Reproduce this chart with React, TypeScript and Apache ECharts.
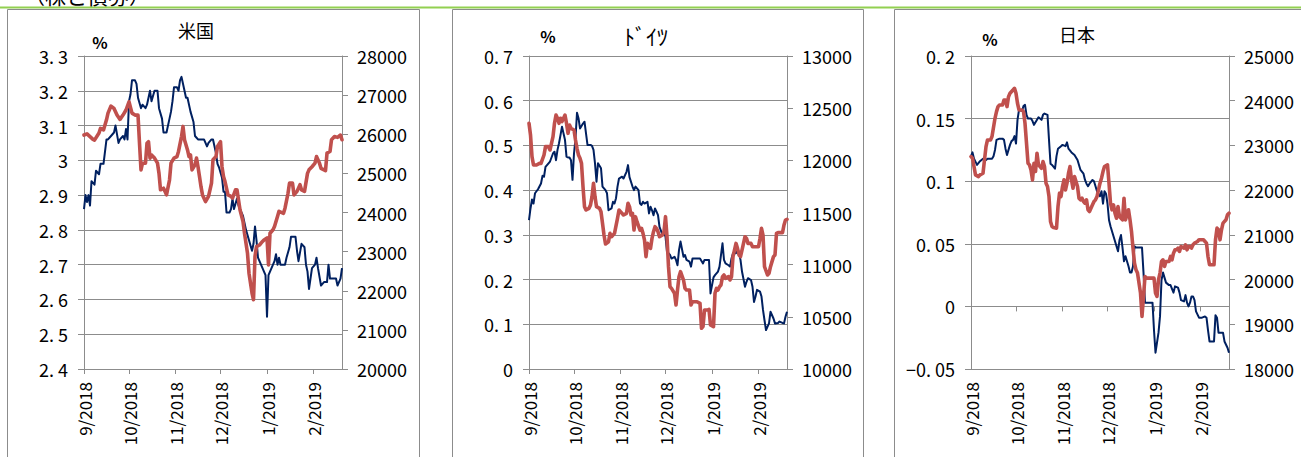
import { useEffect, useRef } from 'react';
import * as echarts from 'echarts';

// Daily x-axis: 2018-09-03 .. 2019-02-22; series points are [day offset, value]
const START_UTC = Date.UTC(2018, 8, 3);
const DAY_COUNT = 173;

// 米国: 10年債利回り (%) / NYダウ
const usYield: [number, number][] = [
  [0, 2.86], [1, 2.9], [2, 2.88], [3, 2.9], [4, 2.87], [5, 2.94], [7, 2.93], [8, 2.97], [10, 2.96], [11, 2.99],
  [13, 2.99], [15, 3.06], [16, 3.06], [18, 3.07], [20, 3.08], [21, 3.1], [23, 3.05], [24, 3.06], [26, 3.07], [27, 3.06],
  [28, 3.09], [29, 3.06], [30, 3.17], [31, 3.19], [32, 3.23], [34, 3.23], [35, 3.22], [36, 3.18], [38, 3.15], [39, 3.16],
  [41, 3.15], [42, 3.16], [43, 3.18], [44, 3.2], [45, 3.17], [47, 3.2], [49, 3.2], [50, 3.15], [52, 3.12], [53, 3.08],
  [55, 3.08], [57, 3.12], [58, 3.14], [59, 3.17], [60, 3.21], [62, 3.21], [63, 3.2], [64, 3.23], [65, 3.24], [67, 3.2],
  [68, 3.18], [69, 3.18], [71, 3.14], [73, 3.11], [74, 3.07], [76, 3.06], [78, 3.06], [80, 3.06], [82, 3.04], [83, 3.05],
  [85, 3.06], [86, 3.06], [88, 3.02], [89, 2.99], [90, 2.98], [92, 2.95], [93, 2.91], [94, 2.91], [95, 2.85], [97, 2.85],
  [98, 2.86], [99, 2.89], [100, 2.86], [102, 2.89], [103, 2.87], [106, 2.84], [108, 2.8], [110, 2.77], [112, 2.74], [113, 2.76],
  [114, 2.81], [115, 2.77], [116, 2.72], [118, 2.7], [119, 2.69], [121, 2.67], [122, 2.55], [123, 2.67], [124, 2.68], [126, 2.7],
  [127, 2.71], [128, 2.73], [129, 2.7], [130, 2.72], [131, 2.7], [134, 2.7], [135, 2.72], [137, 2.75], [138, 2.78], [141, 2.78],
  [142, 2.74], [143, 2.71], [145, 2.76], [147, 2.75], [148, 2.7], [149, 2.68], [150, 2.63], [152, 2.69], [154, 2.7], [155, 2.72],
  [156, 2.69], [158, 2.64], [160, 2.65], [162, 2.65], [163, 2.7], [164, 2.66], [166, 2.66], [168, 2.66], [169, 2.64], [171, 2.66],
  [172, 2.69],
];
const usStock: [number, number][] = [
  [0, 25980], [2, 26010], [4, 25940], [6, 25870], [7, 25850], [10, 26030], [11, 26150], [13, 26110], [15, 26370], [16, 26540],
  [18, 26720], [20, 26660], [22, 26490], [24, 26380], [26, 26490], [28, 26620], [30, 26830], [32, 26540], [34, 26490], [36, 26490],
  [37, 25770], [38, 25090], [39, 25260], [41, 25260], [42, 25770], [43, 25810], [44, 25390], [45, 25470], [47, 25390], [49, 25260],
  [50, 25000], [51, 24580], [53, 24620], [54, 24540], [55, 24450], [57, 24830], [58, 25260], [60, 25390], [62, 25430], [63, 25560],
  [65, 25940], [66, 26200], [67, 25860], [69, 25600], [70, 25430], [71, 25470], [72, 25090], [74, 25220], [75, 25390], [76, 25170],
  [77, 24920], [78, 24660], [79, 24450], [81, 24280], [83, 24410], [84, 24580], [85, 24750], [86, 25350], [88, 25430], [89, 25690],
  [91, 25810], [92, 25170], [93, 24920], [94, 24790], [96, 24450], [98, 24410], [99, 24370], [101, 24580], [102, 24580], [104, 24070],
  [106, 23770], [107, 23470], [109, 22960], [110, 22450], [112, 21940], [113, 21770], [114, 22880], [115, 23130], [117, 23170], [119, 23260],
  [120, 23300], [122, 23350], [123, 22660], [124, 23470], [126, 23560], [127, 23640], [129, 23900], [130, 24030], [133, 23980], [134, 24110],
  [136, 24490], [137, 24750], [139, 24750], [140, 24450], [142, 24540], [144, 24710], [145, 24580], [147, 24540], [149, 25000], [150, 25090],
  [152, 25170], [154, 25260], [155, 25430], [157, 25260], [158, 25130], [160, 25090], [161, 25070], [162, 25520], [164, 25560], [165, 25860],
  [167, 25940], [169, 25920], [171, 25980], [172, 25860],
];

// ドイツ: 10年債利回り (%) / DAX
const deYield: [number, number][] = [
  [0, 0.333], [1, 0.359], [2, 0.379], [3, 0.37], [4, 0.393], [6, 0.402], [8, 0.415], [9, 0.432], [10, 0.43], [11, 0.452],
  [13, 0.46], [14, 0.464], [16, 0.482], [17, 0.486], [18, 0.467], [19, 0.49], [20, 0.505], [21, 0.523], [22, 0.542], [24, 0.512],
  [25, 0.475], [26, 0.473], [27, 0.473], [28, 0.467], [29, 0.423], [30, 0.482], [31, 0.516], [32, 0.573], [33, 0.561], [34, 0.538],
  [36, 0.549], [37, 0.553], [38, 0.527], [39, 0.501], [41, 0.501], [42, 0.499], [43, 0.49], [44, 0.46], [45, 0.419], [46, 0.46],
  [48, 0.449], [49, 0.408], [51, 0.4], [52, 0.393], [53, 0.355], [55, 0.359], [56, 0.374], [57, 0.37], [58, 0.382], [59, 0.408],
  [60, 0.426], [62, 0.43], [63, 0.426], [65, 0.441], [66, 0.456], [67, 0.429], [69, 0.408], [70, 0.4], [71, 0.408], [73, 0.4],
  [74, 0.37], [75, 0.367], [76, 0.374], [77, 0.37], [79, 0.374], [80, 0.348], [81, 0.363], [82, 0.355], [83, 0.344], [84, 0.359],
  [85, 0.352], [86, 0.344], [87, 0.318], [89, 0.3], [90, 0.303], [91, 0.296], [92, 0.262], [93, 0.259], [94, 0.255], [95, 0.247],
  [97, 0.251], [98, 0.244], [99, 0.232], [100, 0.266], [101, 0.285], [103, 0.251], [104, 0.255], [105, 0.244], [107, 0.24], [108, 0.229],
  [109, 0.247], [111, 0.247], [112, 0.247], [114, 0.247], [116, 0.236], [117, 0.244], [119, 0.244], [120, 0.244], [121, 0.169], [123, 0.205],
  [124, 0.21], [126, 0.218], [127, 0.229], [129, 0.281], [130, 0.244], [131, 0.236], [133, 0.232], [134, 0.229], [135, 0.247], [136, 0.259],
  [138, 0.259], [139, 0.27], [140, 0.259], [141, 0.244], [142, 0.218], [144, 0.184], [145, 0.195], [146, 0.203], [148, 0.199], [149, 0.184],
  [150, 0.15], [151, 0.162], [152, 0.177], [154, 0.173], [155, 0.162], [156, 0.132], [157, 0.109], [158, 0.087], [160, 0.102], [161, 0.128],
  [163, 0.113], [164, 0.102], [166, 0.103], [167, 0.106], [169, 0.103], [170, 0.102], [171, 0.117], [172, 0.128],
];
const deStock: [number, number][] = [
  [0, 12355], [1, 12243], [2, 12035], [3, 11955], [5, 11955], [7, 11971], [8, 11971], [10, 12051], [11, 12131], [13, 12131],
  [14, 12099], [16, 12227], [17, 12355], [18, 12434], [19, 12403], [20, 12355], [21, 12403], [22, 12371], [24, 12434], [25, 12355],
  [26, 12259], [27, 12339], [28, 12307], [30, 12291], [31, 12195], [32, 12115], [33, 12051], [34, 12019], [35, 11971], [36, 11748],
  [37, 11556], [38, 11524], [40, 11540], [41, 11572], [42, 11652], [43, 11780], [44, 11652], [45, 11556], [47, 11540], [48, 11508],
  [49, 11396], [50, 11284], [51, 11198], [53, 11220], [54, 11300], [55, 11268], [56, 11284], [57, 11300], [59, 11444], [60, 11524],
  [61, 11508], [63, 11476], [65, 11492], [66, 11588], [67, 11556], [68, 11476], [69, 11492], [70, 11332], [71, 11460], [72, 11412],
  [74, 11332], [75, 11348], [76, 11300], [77, 11236], [78, 11077], [79, 11204], [81, 11156], [82, 11252], [83, 11316], [84, 11364],
  [85, 11348], [86, 11316], [87, 11268], [89, 11284], [90, 11316], [91, 11460], [92, 11268], [93, 10981], [94, 10789], [95, 10773],
  [97, 10725], [98, 10613], [99, 10757], [100, 10885], [101, 10933], [103, 10853], [104, 10773], [105, 10757], [107, 10757], [108, 10613],
  [109, 10645], [111, 10645], [112, 10645], [114, 10629], [115, 10390], [116, 10406], [117, 10565], [119, 10565], [120, 10572], [121, 10422],
  [123, 10406], [124, 10725], [125, 10773], [126, 10757], [127, 10789], [128, 10805], [129, 10885], [130, 10901], [131, 10869], [133, 10885],
  [134, 10853], [135, 10885], [136, 11077], [138, 11204], [139, 11156], [140, 11093], [141, 11077], [142, 11140], [144, 11268], [145, 11252],
  [146, 11204], [148, 11204], [149, 11172], [150, 11172], [151, 11172], [153, 11172], [154, 11252], [155, 11348], [156, 11284], [157, 10981],
  [159, 10901], [160, 10917], [161, 10981], [162, 11029], [163, 11077], [164, 11093], [165, 11300], [166, 11307], [168, 11307], [169, 11307],
  [170, 11380], [171, 11428], [172, 11435],
];

// 日本: 10年債利回り (%) / 日経平均
const jpYield: [number, number][] = [
  [0, 0.12], [1, 0.123], [2, 0.118], [4, 0.113], [6, 0.116], [7, 0.117], [8, 0.118], [10, 0.117], [11, 0.118], [12, 0.118],
  [14, 0.118], [15, 0.12], [16, 0.125], [17, 0.133], [19, 0.134], [21, 0.134], [22, 0.133], [23, 0.126], [24, 0.121], [26, 0.129],
  [27, 0.132], [28, 0.133], [29, 0.136], [30, 0.13], [31, 0.149], [32, 0.157], [34, 0.156], [35, 0.16], [36, 0.161], [37, 0.153],
  [38, 0.15], [40, 0.15], [41, 0.148], [42, 0.145], [44, 0.149], [45, 0.151], [47, 0.149], [48, 0.153], [49, 0.154], [51, 0.153],
  [52, 0.133], [53, 0.114], [54, 0.113], [56, 0.11], [57, 0.12], [58, 0.126], [60, 0.128], [61, 0.129], [63, 0.128], [64, 0.131],
  [65, 0.126], [67, 0.123], [68, 0.122], [69, 0.121], [71, 0.117], [72, 0.113], [73, 0.109], [75, 0.106], [76, 0.101], [77, 0.098],
  [78, 0.096], [79, 0.098], [81, 0.101], [82, 0.1], [83, 0.096], [84, 0.092], [85, 0.09], [86, 0.088], [87, 0.092], [88, 0.082],
  [89, 0.092], [90, 0.09], [91, 0.082], [92, 0.069], [93, 0.064], [94, 0.06], [95, 0.056], [97, 0.048], [98, 0.044], [99, 0.053],
  [100, 0.057], [101, 0.047], [102, 0.036], [103, 0.04], [105, 0.032], [106, 0.027], [107, 0.027], [108, 0.032], [109, 0.048], [110, 0.047],
  [111, 0.047], [114, 0.047], [115, 0.027], [116, 0.003], [118, 0.003], [119, 0.003], [121, 0.003], [122, -0.019], [123, -0.037], [125, -0.021],
  [126, -0.008], [127, 0.021], [128, 0.027], [130, 0.019], [132, 0.017], [133, 0.017], [135, 0.011], [136, 0.016], [138, 0.015], [139, 0.011],
  [140, 0.005], [142, 0.004], [143, 0.009], [144, 0.003], [145, 0], [146, 0.003], [147, 0.008], [148, 0.008], [149, 0.005], [150, -0.004],
  [152, -0.009], [153, -0.009], [154, -0.009], [156, -0.008], [157, -0.009], [158, -0.019], [159, -0.028], [160, -0.028], [162, -0.028], [163, -0.007],
  [164, -0.009], [165, -0.021], [167, -0.021], [168, -0.021], [169, -0.028], [171, -0.033], [172, -0.037],
];
const jpStock: [number, number][] = [
  [0, 22751], [1, 22714], [2, 22528], [3, 22341], [5, 22304], [6, 22341], [8, 22379], [9, 22677], [10, 22974], [11, 23123],
  [13, 23123], [14, 23198], [16, 23607], [17, 23756], [18, 23868], [19, 23905], [21, 23905], [22, 24017], [23, 24017], [24, 23868],
  [25, 24091], [26, 24166], [28, 24240], [29, 24278], [30, 24166], [31, 23943], [32, 23794], [34, 23794], [35, 23756], [36, 23496],
  [37, 23049], [38, 22602], [39, 22565], [40, 22453], [41, 22230], [42, 22602], [43, 22416], [44, 22825], [45, 22565], [47, 22490],
  [48, 22639], [49, 22528], [50, 22155], [51, 22081], [52, 21857], [53, 21299], [54, 21187], [55, 21165], [57, 21150], [58, 21634],
  [59, 21932], [60, 21857], [61, 22081], [62, 22230], [63, 22006], [64, 22155], [65, 22379], [66, 22528], [67, 22230], [68, 22044],
  [69, 22304], [71, 22081], [72, 21820], [73, 21783], [74, 21820], [75, 21746], [76, 21708], [77, 21783], [78, 21560], [79, 21522],
  [81, 21671], [82, 21746], [83, 21783], [84, 21857], [85, 22006], [86, 22155], [87, 22267], [88, 22416], [89, 22528], [91, 22565],
  [92, 22155], [93, 21708], [94, 21560], [95, 21671], [96, 21485], [97, 21373], [98, 21634], [99, 21411], [101, 21336], [102, 21820],
  [103, 21336], [104, 21448], [105, 21560], [106, 21336], [107, 21075], [108, 20703], [109, 20368], [110, 20219], [111, 20145], [113, 19698],
  [114, 19176], [115, 19623], [116, 20070], [117, 20033], [118, 20033], [120, 20033], [122, 20033], [123, 19698], [124, 19623], [125, 19996],
  [126, 20145], [127, 20405], [128, 20442], [129, 20294], [130, 20405], [132, 20405], [133, 20517], [134, 20442], [135, 20591], [136, 20666],
  [137, 20666], [138, 20703], [139, 20629], [140, 20740], [142, 20703], [143, 20778], [144, 20666], [145, 20740], [146, 20740], [147, 20703],
  [148, 20778], [149, 20815], [151, 20852], [152, 20889], [153, 20889], [155, 20889], [156, 20852], [157, 20815], [158, 20517], [159, 20331],
  [160, 20331], [162, 20331], [163, 20889], [164, 21150], [165, 21113], [166, 20889], [167, 21113], [168, 21262], [170, 21336], [171, 21448],
  [172, 21485],
];

const panelTitles = ['米国', 'ﾄﾞｲﾂ', '日本'];
const yieldRanges = [
  { min: 2.4, max: 3.3, interval: 0.1 },
  { min: 0, max: 0.7, interval: 0.1 },
  { min: -0.05, max: 0.2, interval: 0.05 },
];
const stockRanges = [
  { min: 20000, max: 28000, interval: 1000 },
  { min: 10000, max: 13000, interval: 500 },
  { min: 18000, max: 25000, interval: 1000 },
];

const FONT = "'Noto Sans CJK JP', 'Noto Sans', sans-serif";
const GREY = '#8c8c8c';
const NAVY = '#002060';
const RED = '#C0504D';

const dayCategories: string[] = Array.from({ length: DAY_COUNT }, (_, i) => {
  const d = new Date(START_UTC + i * 86400000);
  return `${d.getUTCFullYear()}-${d.getUTCMonth() + 1}-${d.getUTCDate()}`;
});
const isMonthTick = (_i: number, v: string) => v.endsWith('-3');
const monthLabel = (v: string) => {
  const [y, m] = v.split('-');
  return `${m}/${y}`;
};
const pctLabel = (v: number) =>
  String(parseFloat(v.toFixed(3))).replace('-', '−').replace('.', '. ');
const plainLabel = (v: number) => String(Math.round(v));

const gridLefts = [84, 529, 971];

export default function App() {
  const ref = useRef<HTMLDivElement>(null);

  useEffect(() => {
    if (!ref.current) return;
    const chart = echarts.init(ref.current, undefined, { renderer: 'svg' });

    const grids = gridLefts.map((left) => ({ left, top: 56, width: 258, height: 313 }));

    const xLabel = {
      interval: isMonthTick,
      rotate: 90,
      margin: 13,
      fontSize: 17,
      color: '#000',
      fontFamily: FONT,
      formatter: monthLabel,
    };
    const xTick = { interval: isMonthTick, length: 5, lineStyle: { color: GREY } };

    const xAxes: any[] = [0, 1].map((g) => ({
      type: 'category',
      gridIndex: g,
      data: dayCategories,
      boundaryGap: false,
      axisLine: { onZero: false, lineStyle: { color: GREY } },
      axisTick: xTick,
      axisLabel: xLabel,
      splitLine: { show: false },
    }));
    // 日本: axis line and ticks sit on the zero line, labels stay at the bottom
    xAxes.push({
      type: 'category',
      gridIndex: 2,
      data: dayCategories,
      boundaryGap: false,
      axisLine: { onZero: true, onZeroAxisIndex: 4, lineStyle: { color: GREY } },
      axisTick: xTick,
      axisLabel: { show: false },
      splitLine: { show: false },
    });
    xAxes.push({
      type: 'category',
      gridIndex: 2,
      position: 'bottom',
      data: dayCategories,
      boundaryGap: false,
      axisLine: { show: false, onZero: false },
      axisTick: { show: false },
      axisLabel: xLabel,
      splitLine: { show: false },
    });

    const yAxes: any[] = [];
    for (let g = 0; g < 3; g++) {
      yAxes.push({
        type: 'value',
        gridIndex: g,
        position: 'left',
        ...yieldRanges[g],
        axisLine: { show: true, lineStyle: { color: GREY } },
        axisTick: { show: true, length: 6, lineStyle: { color: GREY } },
        axisLabel: { margin: 16, fontSize: 18, color: '#000', fontFamily: FONT, formatter: pctLabel },
        splitLine: { show: true, lineStyle: { color: GREY, width: 1 } },
      });
      yAxes.push({
        type: 'value',
        gridIndex: g,
        position: 'right',
        ...stockRanges[g],
        axisLine: { show: true, lineStyle: { color: GREY } },
        axisTick: { show: true, length: 6, lineStyle: { color: GREY } },
        axisLabel: { margin: 15, fontSize: 18, color: '#000', fontFamily: FONT, formatter: plainLabel },
        splitLine: { show: false },
      });
    }

    const seriesData = [
      [usYield, usStock],
      [deYield, deStock],
      [jpYield, jpStock],
    ];
    const series: any[] = [];
    seriesData.forEach(([yields, stocks], g) => {
      const xIndex = g === 2 ? 2 : g;
      series.push({
        type: 'line',
        xAxisIndex: xIndex,
        yAxisIndex: g * 2,
        data: yields,
        showSymbol: false,
        symbol: 'none',
        lineStyle: { color: NAVY, width: 2, join: 'round' },
        z: 2,
      });
      series.push({
        type: 'line',
        xAxisIndex: xIndex,
        yAxisIndex: g * 2 + 1,
        data: stocks,
        showSymbol: false,
        symbol: 'none',
        lineStyle: { color: RED, width: 3.6, join: 'round', cap: 'round' },
        z: 3,
      });
    });

    const titleStyle = [
      { x: 196, y: 30, size: 18 },
      { x: 646, y: 35, size: 22 },
      { x: 1077, y: 34, size: 18 },
    ];
    const pctPos = [
      { x: 100, y: 42 },
      { x: 548, y: 36 },
      { x: 990, y: 39 },
    ];
    const frames = [
      { x: 7.5, width: 412 },
      { x: 452.5, width: 411 },
      { x: 894.5, width: 420 },
    ];

    const graphic: any[] = [
      {
        type: 'text',
        left: 24,
        top: -16,
        style: { text: '（株と債券）', font: `21px ${FONT}`, fill: '#000' },
      },
      {
        type: 'line',
        shape: { x1: 0, y1: 7.5, x2: 1301, y2: 7.5 },
        style: { stroke: '#92D050', lineWidth: 2 },
      },
      ...frames.map((f) => ({
        type: 'rect',
        shape: { x: f.x, y: 9.5, width: f.width, height: 470 },
        style: { fill: 'none', stroke: GREY, lineWidth: 1 },
        silent: true,
      })),
      ...panelTitles.map((t, i) => ({
        type: 'text',
        x: titleStyle[i].x,
        y: titleStyle[i].y,
        style: {
          text: t,
          font: `${titleStyle[i].size}px ${FONT}`,
          fill: '#000',
          textAlign: 'center',
          textVerticalAlign: 'middle',
        },
      })),
      ...pctPos.map((p) => ({
        type: 'text',
        x: p.x,
        y: p.y,
        style: { text: '%', font: `bold 16px ${FONT}`, fill: '#000', textAlign: 'center', textVerticalAlign: 'middle' },
      })),
    ];

    chart.setOption({
      animation: false,
      backgroundColor: '#ffffff',
      textStyle: { fontFamily: FONT },
      grid: grids,
      xAxis: xAxes,
      yAxis: yAxes,
      series,
      graphic,
    });

    return () => chart.dispose();
  }, []);

  return (
    <div
      ref={ref}
      style={{ position: 'fixed', left: 0, top: 0, width: 1301, height: 457, background: '#fff' }}
    />
  );
}
